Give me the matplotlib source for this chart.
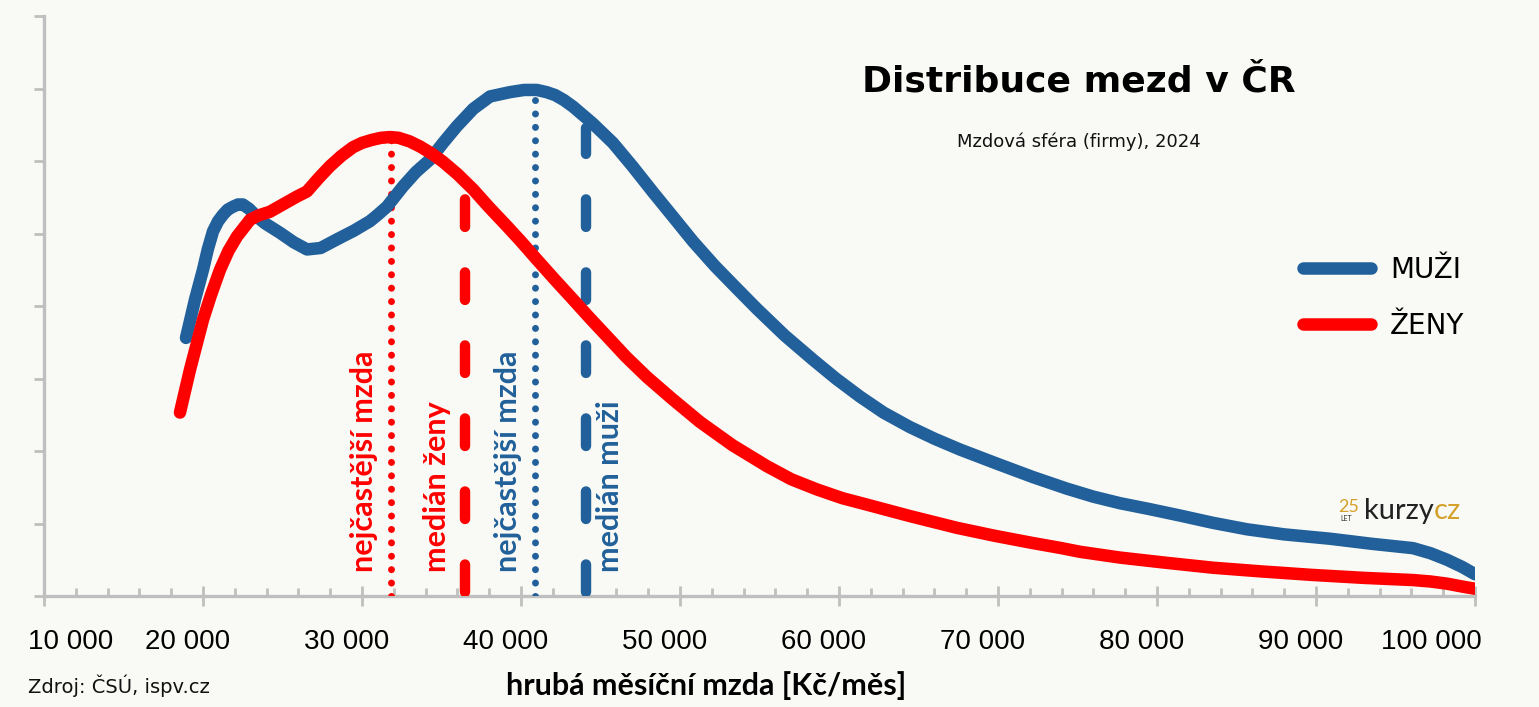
import matplotlib
matplotlib.use("Agg")
import matplotlib.pyplot as plt
from matplotlib.ticker import MultipleLocator

W, H, DPI = 1539, 707, 100

# ---------------- data ----------------
muzi_x = [18930, 19500, 20000, 20300, 20630, 20950, 21260, 21560, 21890, 22200,
          22510, 22900, 23400, 23900, 24840, 25700, 26540, 27400, 28430, 29500,
          30500, 31000, 31570, 32580, 33400, 34280, 35100, 35970, 37000, 38050,
          39310, 40200, 41000, 41600, 42140, 42700, 43270, 44500, 45780, 47000,
          48300, 49600, 50820, 52200, 53580, 54840, 56600, 58360, 59800, 61320,
          62800, 64460, 66000, 67610, 70000, 72200, 74340, 76000, 77670, 79500,
          81440, 83500, 85660, 88000, 90880, 93500, 96100, 97200, 98240, 99200,
          100000]
muzi_y = [3.56, 4.09, 4.50, 4.78, 5.03, 5.17, 5.26, 5.33, 5.37, 5.40,
          5.40, 5.34, 5.23, 5.14, 5.01, 4.88, 4.78, 4.80, 4.92, 5.04,
          5.17, 5.26, 5.37, 5.65, 5.85, 6.02, 6.25, 6.48, 6.72, 6.89,
          6.95, 6.98, 6.98, 6.95, 6.91, 6.84, 6.75, 6.52, 6.25, 5.93,
          5.57, 5.22, 4.89, 4.55, 4.24, 3.96, 3.59, 3.26, 3.00, 2.75,
          2.53, 2.33, 2.17, 2.02, 1.82, 1.64, 1.48, 1.37, 1.28, 1.20,
          1.11, 1.01, 0.92, 0.85, 0.79, 0.72, 0.66, 0.59, 0.50, 0.40,
          0.30]

zeny_x = [18550, 19180, 20000, 20500, 21070, 21600, 22140, 22960, 23500, 24210,
          25100, 25910, 26540, 27300, 27990, 28700, 29430, 30000, 30600, 31200,
          31760, 32300, 33000, 33650, 34400, 35090, 36000, 36980, 38000, 39120,
          40000, 41000, 42100, 43270, 44300, 45410, 46600, 47920, 49500, 51260,
          53300, 55470, 57000, 58610, 60200, 61760, 64500, 67420, 69800, 72200,
          74000, 75150, 77670, 80500, 83520, 86500, 89810, 93000, 96100, 97200,
          98240, 99200, 100000]
zeny_y = [2.53, 3.12, 3.81, 4.15, 4.50, 4.76, 4.96, 5.19, 5.25, 5.30,
          5.41, 5.51, 5.58, 5.77, 5.93, 6.07, 6.19, 6.25, 6.29, 6.32,
          6.33, 6.32, 6.27, 6.20, 6.10, 5.99, 5.82, 5.61, 5.36, 5.10,
          4.89, 4.64, 4.37, 4.09, 3.84, 3.58, 3.30, 3.02, 2.72, 2.40,
          2.08, 1.79, 1.61, 1.47, 1.35, 1.26, 1.10, 0.94, 0.83, 0.73,
          0.66, 0.61, 0.53, 0.46, 0.39, 0.34, 0.29, 0.25, 0.22, 0.20,
          0.17, 0.13, 0.10]

ref_x = [31800, 36500, 40900, 44100]
ref_top = [6.33, 5.53, 6.98, 6.46]
ref_labels = ["nejčastější mzda", "medián ženy", "nejčastější mzda", "medián muži"]
ref_series = ["zeny", "zeny", "muzi", "muzi"]
ref_kind = ["mode", "median", "mode", "median"]

xtick_vals = [10000, 20000, 30000, 40000, 50000, 60000, 70000, 80000, 90000, 100000]
xtick_labels = ["10 000", "20 000", "30 000", "40 000", "50 000", "60 000",
                "70 000", "80 000", "90 000", "100 000"]
ytick_vals = [0, 1, 2, 3, 4, 5, 6, 7, 8]

series_names = ["MUŽI", "ŽENY"]
title = "Distribuce mezd v ČR"
subtitle = "Mzdová sféra (firmy), 2024"
xlabel = "hrubá měsíční mzda [Kč/měs]"
source = "Zdroj: ČSÚ, ispv.cz"

# ---------------- style ----------------
BG = "#F9FAF5"
BLUE = "#21609A"
RED = "#FF0000"
GREY = "#BFBFBF"
GOLD = "#D4A12A"
colors = {"muzi": BLUE, "zeny": RED}

fig = plt.figure(figsize=(W / DPI, H / DPI), dpi=DPI, facecolor=BG)
ax = fig.add_axes([44 / W, 1 - 596 / H, (1475 - 44) / W, (596 - 16) / H])
ax.set_facecolor(BG)
ax.set_xlim(10000, 100000)
ax.set_ylim(0, 8)

lw = 9.0
l_m, = ax.plot(muzi_x, muzi_y, color=BLUE, lw=lw, solid_capstyle="round",
               solid_joinstyle="round", label=series_names[0], zorder=4)
l_z, = ax.plot(zeny_x, zeny_y, color=RED, lw=lw, solid_capstyle="round",
               solid_joinstyle="round", label=series_names[1], zorder=4)

# reference vertical lines
for x, top, lab, s, kind in zip(ref_x, ref_top, ref_labels, ref_series, ref_kind):
    c = colors[s]
    if kind == "mode":
        ax.plot([x, x], [0, top], color=c, lw=5.0, linestyle=(0, (0.01, 1.92)),
                dash_capstyle="round", zorder=3)
        dx = -18
    else:
        ax.plot([x, x], [0.05, top], color=c, lw=7.5, linestyle=(0, (2.64, 4.37)),
                dash_capstyle="round", zorder=3)
        dx = -19 if s == "zeny" else 33
    ax.annotate(lab, xy=(x, 0), xycoords="data", xytext=(dx, 24),
                textcoords="offset pixels", rotation=90, rotation_mode="anchor",
                ha="left", va="baseline", color=c, fontsize=22,
                fontfamily="Lato", fontweight="bold", annotation_clip=False, zorder=5)

# axes styling
for sp in ["top", "right"]:
    ax.spines[sp].set_visible(False)
for sp in ["left", "bottom"]:
    ax.spines[sp].set_color(GREY)
    ax.spines[sp].set_linewidth(2.4)

ax.set_xticks(xtick_vals)
ax.xaxis.set_minor_locator(MultipleLocator(2000))
ax.set_yticks(ytick_vals)
ax.tick_params(axis="x", which="major", direction="inout", length=15, width=2,
               color=GREY, labelbottom=False)
ax.tick_params(axis="x", which="minor", direction="in", length=5.5, width=2,
               color=GREY)
ax.tick_params(axis="y", which="major", direction="out", length=7.5, width=2,
               color=GREY, labelleft=False)

# x tick labels (shifted as in the reference)
n = len(xtick_vals)
for i, (v, lab) in enumerate(zip(xtick_vals, xtick_labels)):
    if i == 0:
        ha, dx = "left", -16
    elif i == n - 1:
        ha, dx = "right", 7
    else:
        ha, dx = "center", -15
    ax.annotate(lab, xy=(v, 0), xycoords=("data", "axes fraction"),
                xytext=(dx, -53), textcoords="offset pixels", ha=ha, va="baseline",
                fontsize=20, fontfamily="Liberation Sans", color="black",
                annotation_clip=False)

# x label
ax.set_xlabel(xlabel, fontsize=22, fontfamily="Lato", fontweight="bold")
ax.xaxis.label.set_va("baseline")
ax.xaxis.set_label_coords((706 - 44) / (1475 - 44), -(695 - 596) / (596 - 16))

# legend
leg = ax.legend(handles=[l_m, l_z], loc="center left",
                bbox_to_anchor=(1303 / W, 1 - 298 / H), bbox_transform=fig.transFigure,
                frameon=False, handlelength=2.45, handletextpad=0.68,
                labelspacing=1.0, borderpad=0, borderaxespad=0,
                prop={"family": "DejaVu Sans", "size": 20})

# titles
fig.text(1079 / W, 1 - 92 / H, title, ha="center", va="baseline", fontsize=26,
         fontweight="bold", fontfamily="DejaVu Sans", color="black")
fig.text(1079 / W, 1 - 147 / H, subtitle, ha="center", va="baseline", fontsize=13,
         fontfamily="DejaVu Sans", color="#111111")
fig.text(28 / W, 1 - 693 / H, source, ha="left", va="baseline", fontsize=14,
         fontfamily="DejaVu Sans", color="#111111")

# logo
fig.text(1338 / W, 1 - 512 / H, "25", ha="left", va="baseline", fontsize=13,
         fontfamily="Lato", color=GOLD)
fig.text(1340 / W, 1 - 521 / H, "LET", ha="left", va="baseline", fontsize=5,
         fontfamily="Lato", color="#333333")
fig.text(1434 / W, 1 - 519 / H, "kurzy", ha="right", va="baseline", fontsize=21,
         fontfamily="Lato", color="#222222")
fig.text(1434 / W, 1 - 519 / H, "cz", ha="left", va="baseline", fontsize=21,
         fontfamily="Lato", color=GOLD)

fig.savefig("out.png", dpi=DPI, facecolor=BG)
